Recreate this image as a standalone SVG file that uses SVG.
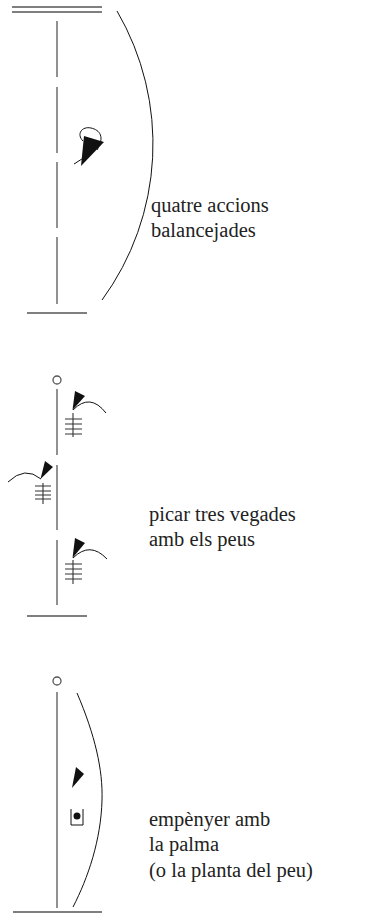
<svg xmlns="http://www.w3.org/2000/svg" width="373" height="914" viewBox="0 0 373 914">
<style>
.staff{stroke:#555;stroke-width:1.3;fill:none}
.thin{stroke:#111;stroke-width:1;fill:none}
.fillsym{fill:#111;stroke:none}
.hash{stroke:#333;stroke-width:1.1;fill:none}
text{font-family:"Liberation Serif","DejaVu Serif",serif;font-size:20.5px;fill:#222}
</style>
<rect width="373" height="914" fill="#fff"/>
<g id="section1">
  <g id="staff1">
    <line class="staff" x1="12" y1="7" x2="102" y2="7"/>
    <line class="staff" x1="12" y1="12" x2="102" y2="12"/>
    <line class="staff" x1="57" y1="21" x2="57" y2="77"/>
    <line class="staff" x1="57" y1="87" x2="57" y2="153"/>
    <line class="staff" x1="57" y1="162" x2="57" y2="228"/>
    <line class="staff" x1="57" y1="237" x2="57" y2="304"/>
    <line class="staff" x1="27" y1="313" x2="87" y2="313"/>
  </g>
  <path id="phrase1" class="thin" d="M117,11 A264,264 0 0 1 102,300"/>
  <g id="symbol1">
    <polygon class="fillsym" points="84,136 104,142 81,166"/>
    <path class="thin" d="M83,141 C76,134 82,126 91,128 C100,130 105,137 97,150"/>
    <line class="thin" x1="74" y1="164" x2="85" y2="157"/>
  </g>
  <g id="label1">
    <text x="151" y="212">quatre accions</text>
    <text x="151" y="237">balancejades</text>
  </g>
</g>
<g id="section2">
  <g id="staff2">
    <circle class="staff" cx="57" cy="380" r="4"/>
    <line class="staff" x1="57" y1="389" x2="57" y2="455"/>
    <line class="staff" x1="57" y1="465" x2="57" y2="530"/>
    <line class="staff" x1="57" y1="540" x2="57" y2="605"/>
    <line class="staff" x1="27" y1="616" x2="87" y2="616"/>
  </g>
  <g id="tapA">
    <polygon class="fillsym" points="75,391 85,396 72.5,410"/>
    <path class="thin" d="M73,410 Q90,392.5 106,413"/>
    <path class="hash" d="M65,419H82M65,424H82M65,429H82M65,434H82M73,413V437"/>
  </g>
  <g id="tapB">
    <polygon class="fillsym" points="45,461 53,467 40.5,479"/>
    <path class="thin" d="M41,479 Q25,465.5 8,482"/>
    <path class="hash" d="M35,486H51M35,491H51M35,495H51M35,499H51M43,483V504"/>
  </g>
  <g id="tapC">
    <polygon class="fillsym" points="75,538 85,543 72.5,558"/>
    <path class="thin" d="M73,558 Q90,541 107,559"/>
    <path class="hash" d="M65,564H82M65,569H82M65,574H82M65,579H82M73,560V584"/>
  </g>
  <g id="label2">
    <text x="149" y="521">picar tres vegades</text>
    <text x="149" y="546">amb els peus</text>
  </g>
</g>
<g id="section3">
  <g id="staff3">
    <circle class="staff" cx="57" cy="681" r="4"/>
    <line class="staff" x1="57" y1="692" x2="57" y2="908"/>
    <line class="staff" x1="13" y1="912" x2="102" y2="912"/>
  </g>
  <path id="phrase3" class="thin" d="M77,693 C95,735 103,770 102,800 C101,840 88,878 73,907"/>
  <g id="push">
    <polygon class="fillsym" points="76,767 84,774 72,788"/>
    <path class="thin" d="M71,809V825H83V809"/>
    <circle class="fillsym" cx="77" cy="816" r="3.5"/>
  </g>
  <g id="label3">
    <text x="149" y="826">empènyer amb</text>
    <text x="149" y="851">la palma</text>
    <text x="149" y="877">(o la planta del peu)</text>
  </g>
</g>
</svg>
